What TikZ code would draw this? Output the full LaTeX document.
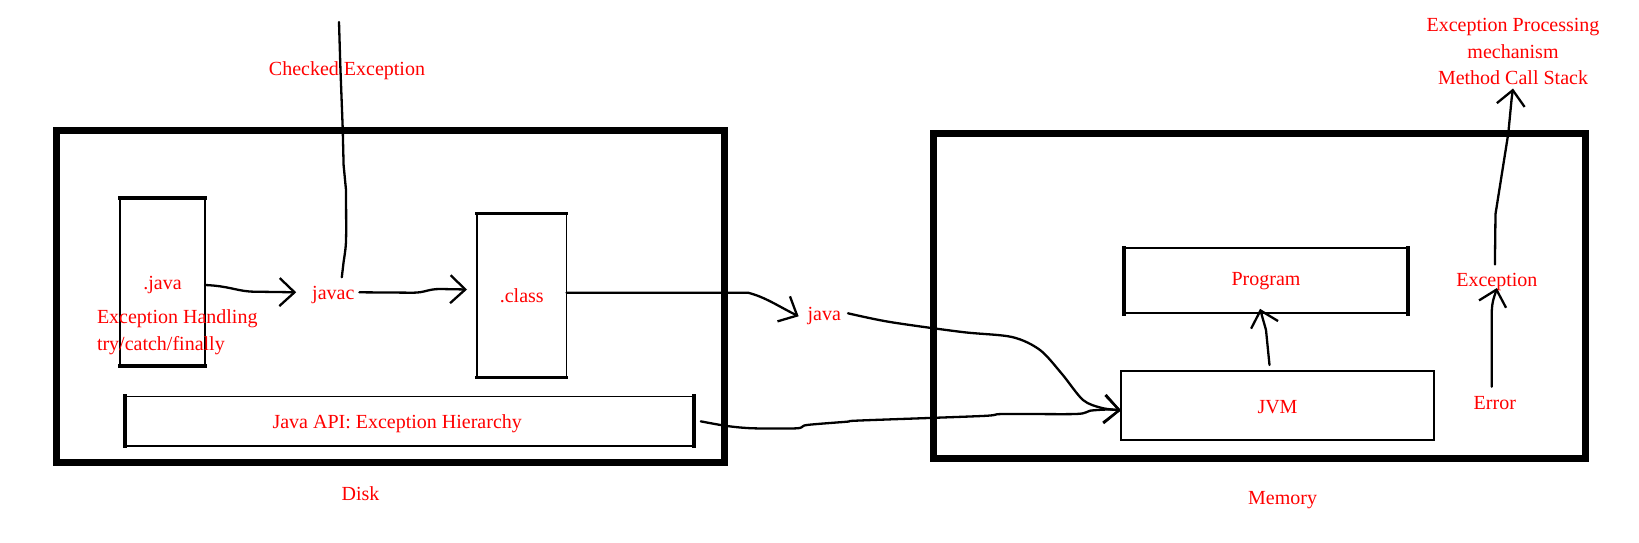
\documentclass[tikz,border=0pt]{standalone}
\usepackage{fontspec}
\setmainfont{Liberation Serif}
\usetikzlibrary{arrows.meta}
\definecolor{lbl}{RGB}{255,0,0}
\begin{document}
\begin{tikzpicture}[x=1pt,y=-1pt,
  bigbox/.style={draw,line width=7pt,outer sep=0pt,inner sep=0pt},
  thinbox/.style={draw,line width=1.8pt,outer sep=0pt,inner sep=0pt,text=lbl,font=\fontsize{20}{26.7}\selectfont,text height=16.5pt,text depth=1.5pt},
  heavy/.style={line width=4.5pt,line cap=rect},
  lbltxt/.style={text=lbl,font=\fontsize{20}{26.7}\selectfont,inner sep=0pt,outer sep=0pt,text height=16.5pt,text depth=1.5pt},
  lblblock/.style={text=lbl,font=\fontsize{20}{26.7}\selectfont,inner sep=0pt,outer sep=0pt},
  conn/.style={draw,line width=2.3pt,line cap=round,line join=round},
  arr/.style={conn,-{Straight Barb[length=15pt,width=28pt]}}
]
\useasboundingbox (0,0) rectangle (1639,543);

% containers
\node[bigbox,minimum width=668pt,minimum height=332pt] (disk) at (390.75,296) {};
\node[bigbox,minimum width=652.2pt,minimum height=325pt] (memory) at (1259.4,296.2) {};

% disk contents
\node[thinbox,line width=1.6pt,minimum width=85pt,minimum height=168pt] (javabox) at (162.5,282) {.java};
\draw[heavy,line width=3.5pt] (javabox.north west) -- (javabox.north east);
\draw[heavy,line width=3.5pt] (javabox.south west) -- (javabox.south east);

\node[thinbox,line width=1.6pt,minimum width=89.5pt,minimum height=164pt,text height=15.5pt,text depth=2.5pt] (classbox) at (521.75,295.5) {.class};
\draw[heavy,line width=3.5pt] (classbox.north west) -- (classbox.north east);
\draw[heavy,line width=3.5pt] (classbox.south west) -- (classbox.south east);

\node[thinbox,line width=1.5pt,minimum width=569pt,minimum height=49.3pt] (apibox) at (409.3,421.35) {};
\draw[heavy] (apibox.north west) -- (apibox.south west);
\draw[heavy] (apibox.north east) -- (apibox.south east);
\node[lbltxt] (apitxt) at (397.2,421.3) {Java API: Exception Hierarchy};

\node[lblblock,align=left,anchor=north west] (handling) at (97,309.5) {Exception Handling\\try/catch/finally};
\node[lbltxt] (javac) at (333.3,292.3) {javac};
\node[lbltxt] (chk) at (347,68) {Checked Exception};
\node[lbltxt] (disklbl) at (360.6,493.4) {Disk};

% memory contents
\node[thinbox,minimum width=284pt,minimum height=65pt,text height=13.5pt,text depth=4.5pt] (program) at (1266,280.8) {Program};
\draw[heavy] (program.north west) -- (program.south west);
\draw[heavy] (program.north east) -- (program.south east);
\node[thinbox,minimum width=313pt,minimum height=68.6pt,text height=17.5pt,text depth=0.5pt] (jvm) at (1277.5,405.3) {JVM};
\node[lbltxt] (exc) at (1496.9,279) {Exception};
\node[lbltxt] (err) at (1494.8,402.4) {Error};
\node[lblblock,align=center,anchor=south] (mcs) at (1513,85) {Exception Processing\\mechanism\\Method Call Stack};
\node[lbltxt] (memlbl) at (1282.6,496.5) {Memory};

\node[lbltxt] (javatxt) at (824.3,313.3) {java};

% connectors
\coordinate (chktop) at (339,22);
\draw[conn] ([xshift=8.5pt,yshift=6pt]javac.north) -- (343.6,262) .. controls (346,246) .. (346.2,230) -- (346,190) .. controls (344,178) .. (343.6,165) -- (342.7,128) -- (340.4,68) -- (chktop);

\draw[arr] ([yshift=-3pt]javabox.east) .. controls (230,286) and (238,291.7) .. (255,291.7) -- ([xshift=-16pt]javac.west);
\draw[arr] ([xshift=5pt]javac.east) -- (413,292.7) .. controls (425,292.7) and (428,289) .. (440,289) -- ([xshift=-10pt,yshift=6pt]classbox.west);
\draw[arr] ([yshift=2.8pt]classbox.east) -- (748,292.7) .. controls (765,297) and (778,306) .. ([xshift=-9pt,yshift=-3pt]javatxt.west);
\draw[arr] plot[smooth,tension=0.5] coordinates {([xshift=7pt]javatxt.east) (890,322) (962,332) (1012,337) (1040,350) (1062,374) (1083,400) (1102,408) ([yshift=-5pt]jvm.west)};
\draw[arr] plot[smooth,tension=0.5] coordinates {([xshift=7pt]apibox.east) (727,426) (753,428.3) (797,428.3) (807,425) (847,421.7) (860,420.5) (982,416) (1003,414) (1076,414) (1090,410.7) (1108,409.5) ([yshift=-5pt]jvm.west)};
\draw[arr] ([xshift=-8pt,yshift=6pt]jvm.north) -- (1266,330) -- ([xshift=-6pt,yshift=4.5pt]program.south);
\draw[arr] ([xshift=-3pt,yshift=6.7pt]err.north) -- (1491.7,313) .. controls (1492,300) and (1495,295) .. (exc.south);
\draw[arr] ([xshift=-2pt,yshift=5.5pt]exc.north) -- (1495.5,214) -- (1508.3,133.3) -- (1511.7,98) -- ([yshift=-3.5pt]mcs.south);
\end{tikzpicture}
\end{document}
